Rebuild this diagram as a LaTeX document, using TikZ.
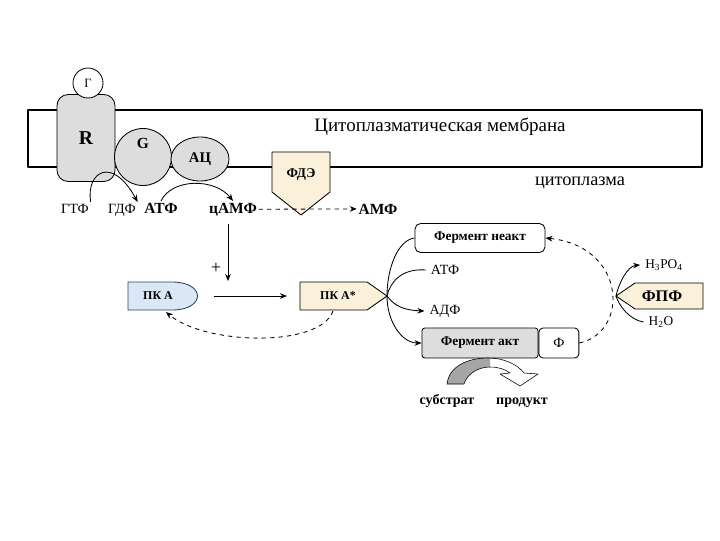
\documentclass[tikz,border=0pt]{standalone}
\usepackage{fontspec}
\setmainfont{Liberation Serif}
\usetikzlibrary{arrows.meta,positioning,shapes.geometric}
\definecolor{beige}{HTML}{FBF1DA}
\definecolor{paleblue}{HTML}{DCE7F5}
\definecolor{navy}{HTML}{2A3F66}
\definecolor{lgray}{HTML}{DDDDDD}
\newcommand{\fs}[1]{\fontsize{#1}{#1}\selectfont}

\begin{document}
\begin{tikzpicture}[x=0.025cm,y=-0.025cm,>={Stealth[length=5pt,width=4pt]},
  semithick,line join=round,
  lbl/.style={inner sep=1pt,anchor=base,font=\fs{10}},
  blbl/.style={inner sep=1pt,anchor=base,font=\fs{11}\bfseries},
  ball/.style={draw,circle,fill=lgray,inner sep=0pt},
  ebox/.style={draw,rounded corners=4pt,minimum width=3.25cm,minimum height=0.725cm,
    inner sep=1pt,font=\fs{9.5}\bfseries}]
%\draw[help lines] (0,0) grid (720,540);
\useasboundingbox (0,0) rectangle (720,540);
% membrane
\draw[line width=1pt] (28,110) rectangle (702,167);
\node[font=\fs{13.5}] (memb) at (440,127) {Цитоплазматическая мембрана};
\node[font=\fs{13}] (cyto) at (580,183) {цитоплазма};
% receptor, G-protein, adenylate cyclase
\node[draw,rounded corners=8pt,fill=lgray,minimum width=1.45cm,minimum height=2.175cm,
  font=\fs{14}\bfseries] (R) at (86,138) {R};
\node[draw,circle,fill=white,minimum size=0.75cm,inner sep=0pt,font=\fs{9}] (H) at (88,83) {Г};
\node[ball,minimum size=1.425cm] (G) at (143,157) {};
\node[font=\fs{11}\bfseries] (Gtxt) at (143,143) {G};
\node[draw,ellipse,fill=lgray,minimum width=1.45cm,minimum height=1.1cm,inner sep=0pt,
  font=\fs{10.5}\bfseries] (AC) at (200,159) {АЦ};
% phosphodiesterase
\draw[fill=beige] (272,152) -- (330,152) -- (330,192) -- (301,215) -- (272,192) -- cycle;
\node[font=\fs{9.5}\bfseries] (PDE) at (301,174) {ФДЭ};
\node[lbl] (gtp) at (75,213) {ГТФ};
\node[lbl] (gdp) at (122,213) {ГДФ};
\node[blbl] (atp) at (161,213) {АТФ};
\node[blbl] (camp) at (233,213) {цАМФ};
\node[blbl] (amp) at (378,214) {АМФ};
\draw[->] (gtp.north east) .. controls (86,172) and (112,155) .. (gdp.north east);
\draw[->] (atp.north) .. controls (172,178) and (215,178) .. (camp.north);
\draw[->,dashed] (camp.east) -- (amp.west);
% protein kinase A
\coordinate (cdown) at (228,224);
\coordinate (plusend) at (228,281);
\draw[->] (cdown) -- (plusend);
\node[font=\fs{13}] (plus) at (216,268) {+};
\draw[navy,fill=paleblue] (128,282) -- (172,282) .. controls (206,282) and (206,310) .. (172,310)
  -- (128,310) -- cycle;
\node[font=\fs{8.5}\bfseries] (pka) at (158,296) {ПК А};
\draw[fill=beige] (300,282) -- (367,282) -- (387,296) -- (367,310) -- (300,310) -- cycle;
\node[font=\fs{8.5}\bfseries] (pkas) at (338,296) {ПК А*};
\coordinate (pkaR) at (214,296);
\coordinate (pkasL) at (287,296);
\coordinate (pkasTip) at (387,296);
\coordinate (pkasB) at (333,311);
\coordinate (pkaB) at (166,312);
\draw[->] (pkaR) -- (pkasL);
\draw[->,dashed] (pkasB) .. controls (320,348) and (205,345) .. (pkaB);
% enzyme cycle
\node[ebox,fill=white] (neakt) at (480,238) {Фермент неакт};
\node[ebox,fill=lgray,rounded corners=2pt,minimum width=2.9cm,minimum height=0.75cm] (akt) at (480,343) {Фермент акт};
\node[draw,rounded corners=3pt,fill=white,minimum width=1cm,minimum height=0.75cm,
  font=\fs{10}] (phi) [right=0pt of akt] {Ф};
\node[font=\fs{10}] (atpR) at (445,270) {АТФ};
\node[font=\fs{10}] (adpR) at (445,311) {АДФ};
\draw[->] (neakt.west) .. controls (398,240) and (387,268) .. (pkasTip)
  .. controls (387,322) and (402,343) .. (akt.west);
\draw[->] (atpR.west) .. controls (402,268) and (390,282) .. (pkasTip)
  .. controls (392,302) and (398,310) .. (adpR.west);
\draw[->,dashed] (phi.east) .. controls (630,332) and (626,246) .. (neakt.east);
% phosphoprotein phosphatase
\draw[fill=beige] (635,283) -- (703,283) -- (703,309) -- (635,309) -- (616,296) -- cycle;
\node[font=\fs{11.5}\bfseries] (fpf) at (662,296) {ФПФ};
\coordinate (fpfTip) at (616,296);
\node[font=\fs{9.5}] (h3po4) at (664,265) {H\textsubscript{3}PO\textsubscript{4}};
\node[font=\fs{9.5}] (h2o) at (661,322) {H\textsubscript{2}O};
\draw[->] (h2o.west) .. controls (630,320) and (619,306) .. (fpfTip)
  .. controls (619,282) and (628,266) .. (h3po4.west);
% substrate -> product
\def\subpath{(447,384) .. controls (449,366) and (468,358) .. (488,358)
  .. controls (505,358) and (518,365) .. (524,373) -- (538,374) -- (520,386) -- (500,374)
  -- (510,373) .. controls (505,369) and (498,367) .. (490,367)
  .. controls (478,367) and (467,374) .. (464,384) -- cycle}
\begin{scope}
\clip (440,350) rectangle (490,390);
\fill[gray!70] \subpath;
\end{scope}
\draw[thin] \subpath;
\node[font=\fs{10}\bfseries,anchor=base] (subs) at (447,404) {субстрат};
\node[font=\fs{10}\bfseries,anchor=base] (prod) at (522,404) {продукт};
\end{tikzpicture}
\end{document}
